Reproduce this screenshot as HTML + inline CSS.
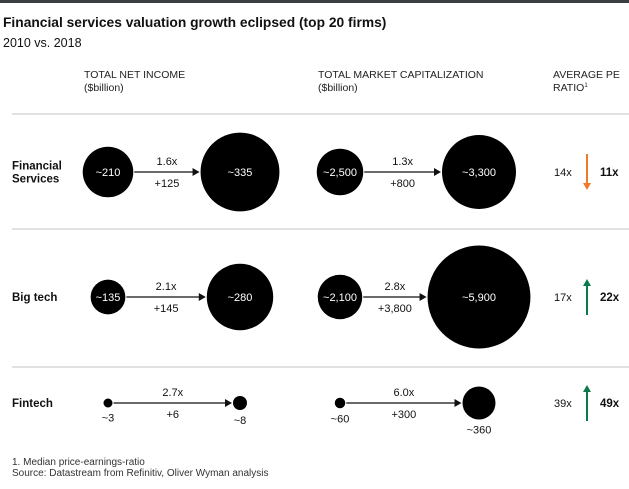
<!DOCTYPE html>
<html><head><meta charset="utf-8">
<style>
html,body{margin:0;padding:0;background:#fff;}
body{width:629px;height:484px;overflow:hidden;position:relative;font-family:"Liberation Sans",sans-serif;}
svg text{font-family:"Liberation Sans",sans-serif;}
</style></head>
<body>
<svg id="chart" width="629" height="484" viewBox="0 0 629 484">
  <rect x="0" y="0" width="629" height="3" fill="#3a3d42"/>
  <text x="3" y="27" font-size="13.8" font-weight="bold" fill="#111">Financial services valuation growth eclipsed (top 20 firms)</text>
  <text x="3" y="47" font-size="12.5" fill="#111">2010 vs. 2018</text>
  <g font-size="10.5" fill="#222">
    <text x="84" y="78">TOTAL NET INCOME</text>
    <text x="84" y="91">($billion)</text>
    <text x="318" y="78">TOTAL MARKET CAPITALIZATION</text>
    <text x="318" y="91">($billion)</text>
    <text x="553" y="78">AVERAGE PE</text>
    <text x="553" y="91">RATIO<tspan font-size="6" dy="-4">1</tspan></text>
  </g>
  <g id="rows"></g>
  <text x="12" y="465" font-size="10" fill="#333">1. Median price-earnings-ratio</text>
  <text x="12" y="476" font-size="10" fill="#333">Source: Datastream from Refinitiv, Oliver Wyman analysis</text>
</svg>
<script>
const categories = ["Financial Services", "Big tech", "Fintech"];
const income2010 = [210, 135, 3];
const income2018 = [335, 280, 8];
const incomeGrowth = ["1.6x", "2.1x", "2.7x"];
const incomeDelta = ["+125", "+145", "+6"];
const mcap2010 = [2500, 2100, 60];
const mcap2018 = [3300, 5900, 360];
const mcapGrowth = ["1.3x", "2.8x", "6.0x"];
const mcapDelta = ["+800", "+3,800", "+300"];
const pe2010 = [14, 17, 39];
const pe2018 = [11, 22, 49];

const NS = "http://www.w3.org/2000/svg";
const g = document.getElementById("rows");
const rowY = [172, 297, 403];
const sepY = [114, 229, 367];
function piece(knotsX, knotsY){
  return v => {
    for (let i = 1; i < knotsX.length; i++) {
      if (v <= knotsX[i]) { const t = (v - knotsX[i-1]) / (knotsX[i] - knotsX[i-1]); return knotsY[i-1] + t * (knotsY[i] - knotsY[i-1]); }
    }
    return knotsY[knotsY.length-1];
  };
}
const rIncome = piece([0, 10, 150, 340], [3, 8, 18.5, 40]);
const rMcap = piece([0, 400, 2600, 3300, 6000], [3, 18, 23.5, 37, 52]);
function fmt(v){ return "~" + v.toLocaleString("en-US"); }
function el(tag, attrs, txt){
  const e = document.createElementNS(NS, tag);
  for (const k in attrs) e.setAttribute(k, attrs[k]);
  if (txt !== undefined) e.textContent = txt;
  g.appendChild(e);
  return e;
}
sepY.forEach((y, i) => {
  const l = el("line", {x1: 12, x2: 629, y1: y, y2: y, stroke: "#cfcfcf", "stroke-width": 1.2});
  
  
});
function pair(cx1, cx2, v1, v2, rf, growth, delta, y, key, small){
  const r1 = rf(v1), r2 = rf(v2);
  const c1 = el("circle", {cx: cx1, cy: y, r: r1, fill: "#000"});
  
  
  const c2 = el("circle", {cx: cx2, cy: y, r: r2, fill: "#000"});
  
  
  const x1 = cx1 + r1 + 1, x2 = cx2 - r2 - 1;
  const ln = el("line", {x1: x1, x2: x2 - 5, y1: y, y2: y, stroke: "#111", "stroke-width": 1.3});
  
  
  const hd = el("polygon", {points: `${x2},${y} ${x2-7},${y-4} ${x2-7},${y+4}`, fill: "#111"});
  
  
  const mid = (x1 + x2) / 2;
  const t1 = el("text", {x: mid, y: y - 7, "font-size": 11, "text-anchor": "middle", fill: "#111"}, growth);
  
  
  const t2 = el("text", {x: mid, y: y + 15, "font-size": 11, "text-anchor": "middle", fill: "#111"}, delta);
  
  
  [[cx1, r1, v1, '2010'], [cx2, r2, v2, '2018']].forEach(([cx, r, v, yr]) => {
    const inside = !small;
    const t = el("text", {x: cx, y: inside ? y + 4 : y + r + 14, "font-size": 11, "text-anchor": "middle", fill: inside ? "#fff" : "#111"}, fmt(v));
    
    
  });
}
categories.forEach((c, i) => {
  const y = rowY[i];
  const lines = c === "Financial Services" ? ["Financial", "Services"] : [c];
  lines.forEach((s, j) => {
    const t = el("text", {x: 12, y: y + 4 - (lines.length - 1) * 6.5 + j * 13, "font-size": 11.5, "font-weight": "bold", fill: "#111"}, s);
    
    
  });
  const small = c === "Fintech";
  pair(108, 240, income2010[i], income2018[i], rIncome, incomeGrowth[i], incomeDelta[i], y, 'income', small);
  pair(340, 479, mcap2010[i], mcap2018[i], rMcap, mcapGrowth[i], mcapDelta[i], y, 'mcap', small);
  const p1 = el("text", {x: 554, y: y + 4, "font-size": 11, fill: "#111"}, pe2010[i] + "x");
  
  
  const p2 = el("text", {x: 600, y: y + 4, "font-size": 11.5, "font-weight": "bold", fill: "#111"}, pe2018[i] + "x");
  
  
  const up = pe2018[i] > pe2010[i];
  const col = up ? "#0a7a4a" : "#f07a2a";
  const ax = 587;
  const top = y - 18, bot = y + 18;
  const sh = el("line", {x1: ax, x2: ax, y1: up ? top + 6 : top, y2: up ? bot : bot - 6, stroke: col, "stroke-width": 2});
  
  
  const pts = up ? `${ax},${top} ${ax-4},${top+7} ${ax+4},${top+7}` : `${ax},${bot} ${ax-4},${bot-7} ${ax+4},${bot-7}`;
  const ph = el("polygon", {points: pts, fill: col});
  
  
});
</script>
</body></html>
